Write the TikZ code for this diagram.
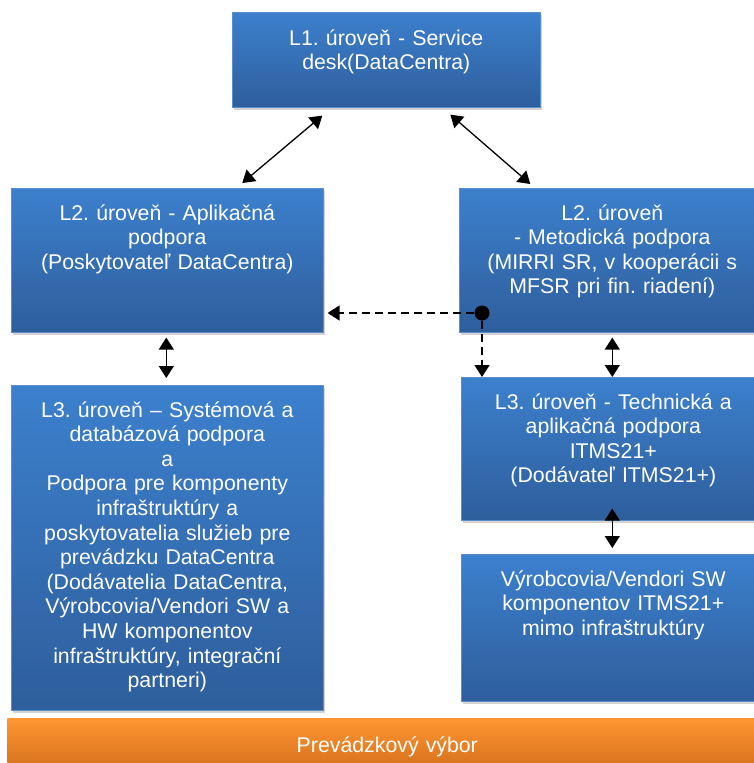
\documentclass[tikz,border=0pt]{standalone}
\usepackage{fontspec}
\setmainfont{Liberation Sans}
\usetikzlibrary{arrows.meta,shadows}
\definecolor{boxtop}{RGB}{60,128,205}
\definecolor{boxbot}{RGB}{46,94,156}
\definecolor{boxline}{RGB}{92,142,205}
\definecolor{orgtop}{RGB}{255,150,50}
\definecolor{orgbot}{RGB}{212,112,28}
\frenchspacing
\tikzset{box/.style={rectangle, anchor=north west, inner sep=0pt, top color=boxtop, bottom color=boxbot, draw=boxline, line width=0.6pt, drop shadow={shadow xshift=2pt, shadow yshift=-3pt, opacity=0.35}},
  orgbox/.style={box, top color=orgtop, bottom color=orgbot, draw=none},
  txt/.style={anchor=base, inner sep=0pt, text=white, text width=300pt, align=center, font=\fontsize{21.3}{24.6}\selectfont},
  dbl/.style={black, line width=1.3pt, {Triangle[length=12pt,width=15pt]}-{Triangle[length=12pt,width=15pt]}},
  dsh/.style={black, line width=1.5pt, dash pattern=on 8pt off 5pt, -{Triangle[length=12pt,width=15pt]}},
  blob/.style={circle, fill=black, inner sep=0pt, minimum size=15pt}}

\begin{document}
\begin{tikzpicture}[x=1pt,y=-1pt]
   \useasboundingbox (0,0) rectangle (754,763);
   \clip (0,0) rectangle (754,763);
   \node[box, minimum width=308pt, minimum height=95pt] (l1) at (232,12) {};
   \node[txt] (l1t) at ([yshift=-33pt]l1.north) {L1. úroveň - Service\\desk(DataCentra)};
   \node[box, minimum width=312pt, minimum height=144pt] (l2l) at (11,188) {};
   \node[txt] (l2lt) at ([yshift=-32pt]l2l.north) {L2. úroveň - Aplikačná\\podpora\\(Poskytovateľ DataCentra)};
   \node[box, minimum width=306pt, minimum height=144pt] (l2r) at (459,188) {};
   \node[txt] (l2rt) at ([yshift=-32pt]l2r.north) {L2. úroveň\\- Metodická podpora\\(MIRRI SR, v kooperácii s\\MFSR pri fin. riadení)};
   \node[box, minimum width=312pt, minimum height=325pt] (l3l) at (11,385) {};
   \node[txt] (l3lt) at ([yshift=-32pt]l3l.north) {L3. úroveň -- Systémová a\\databázová podpora\\a\\Podpora pre komponenty\\infraštruktúry a\\poskytovatelia služieb pre\\prevádzku DataCentra\\(Dodávatelia DataCentra,\\Výrobcovia/Vendori SW a\\HW komponentov\\infraštruktúry, integrační\\partneri)};
   \node[box, minimum width=304pt, minimum height=143pt] (l3r) at (461,377) {};
   \node[txt] (l3rt) at ([yshift=-32pt]l3r.north) {L3. úroveň - Technická a\\aplikačná podpora\\ITMS21+\\(Dodávateľ ITMS21+)};
   \node[box, minimum width=304pt, minimum height=147pt] (vyr) at (461,554) {};
   \node[txt] (vyrt) at ([yshift=-32pt]vyr.north) {Výrobcovia/Vendori SW\\komponentov ITMS21+\\mimo infraštruktúry};
   \node[orgbox, minimum width=760pt, minimum height=52pt] (vybor) at (7,718) {};
   \node[txt] (vybort) at ([yshift=-34pt]vybor.north) {Prevádzkový výbor};
   \draw[dbl] ([shift={(-64,8)}]l1.south) -- ([shift={(75,-5)}]l2l.north);
   \draw[dbl] ([shift={(64,7)}]l1.south) -- ([shift={(-82,-4)}]l2r.north);
   \draw[dbl] ([shift={(-1,5)}]l2l.south) -- ([shift={(-1,-7)}]l3l.north);
   \draw[dbl] ([shift={(0,5)}]l2r.south) -- ([shift={(-1,0)}]l3r.north);
   \draw[dbl] ([shift={(-1,-12)}]l3r.south) -- ([shift={(-1,-6)}]vyr.north);
   \node[blob] (bod) at (482,313) {};
   \draw[dsh, shorten >=4pt] (bod) -- (bod -| l2l.east);
   \draw[dsh] (bod) -- (bod |- l3r.north);
\end{tikzpicture}
\end{document}
